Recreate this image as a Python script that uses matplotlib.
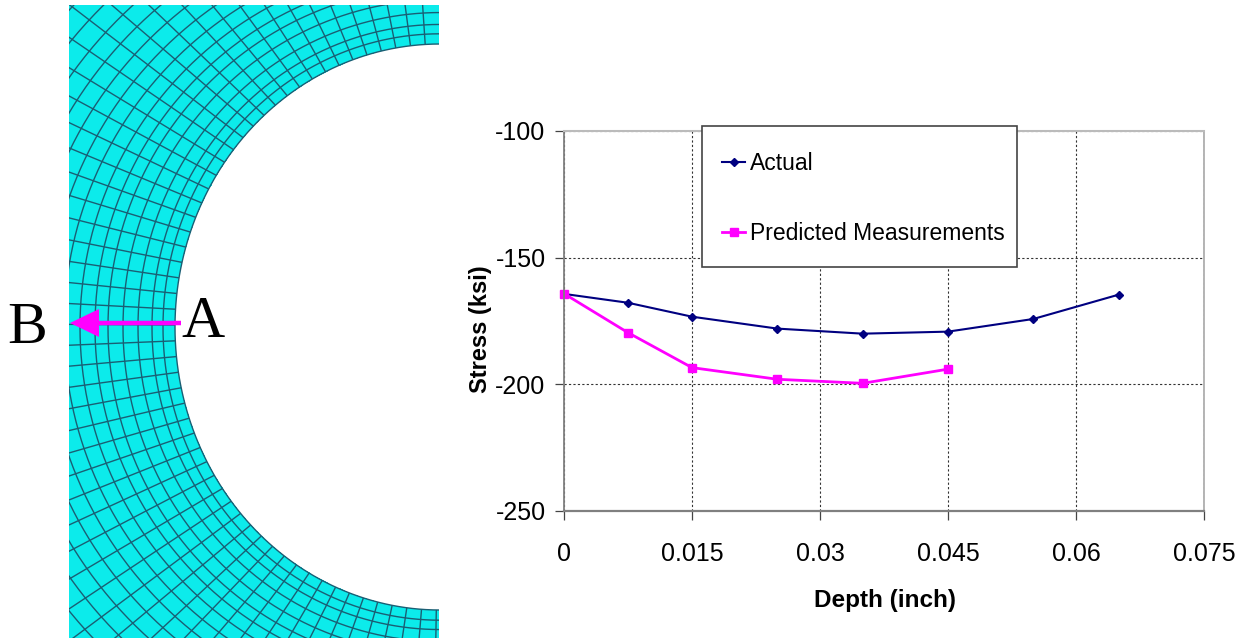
import numpy as np
import matplotlib
matplotlib.use("Agg")
import matplotlib.pyplot as plt
from matplotlib.colors import ListedColormap
from matplotlib.patches import FancyArrow, Rectangle

plt.rcParams["axes.unicode_minus"] = False
W, H = 1247, 641

depth_actual = [0, 0.0075, 0.015, 0.025, 0.035, 0.045, 0.055, 0.065]
stress_actual = [-164.3, -167.8, -173.3, -178.0, -180.0, -179.2, -174.2, -164.6]
depth_pred = [0, 0.0075, 0.015, 0.025, 0.035, 0.045]
stress_pred = [-164.2, -179.6, -193.4, -198.0, -199.6, -194.0]
x_ticks = [0, 0.015, 0.03, 0.045, 0.06, 0.075]
x_labels = ["0", "0.015", "0.03", "0.045", "0.06", "0.075"]
y_ticks = [-100, -150, -200, -250]
mesh_offsets = [0, 12, 23, 37, 52, 67, 80, 95, 111, 128, 146, 165, 185, 207, 230, 255, 282, 311, 342]
mesh_angles = np.arange(-90, 90.01, 3.2)

def axes_px(x0, y0, x1, y1):
    return [x0 / W, 1 - y1 / H, (x1 - x0) / W, (y1 - y0) / H]

def ring(theta, offset):
    return 440 - (265 + offset) * np.cos(theta), 327 + (283 + offset * 0.85) * np.sin(theta)

fig = plt.figure(figsize=(W / 100, H / 100), dpi=100, facecolor="white")

# FEA mesh panel
am = fig.add_axes(axes_px(69, 5, 439, 638))
fine = np.radians(np.linspace(-90, 90, 361))
off = np.array(mesh_offsets, float)
T, O = np.meshgrid(fine, [off[0], off[-1]])
X, Y = ring(T, O)
am.pcolormesh(X, Y, np.zeros((1, fine.size - 1)), cmap=ListedColormap(["#0CEBEB"]),
              shading="flat", antialiased=False)
line_kw = dict(color="#1A5F74", lw=1.0, solid_capstyle="butt")
for o in mesh_offsets:
    am.plot(*ring(fine, o), **line_kw)
for a in np.radians(mesh_angles):
    am.plot(*ring(np.full(off.size, a), off), **line_kw)
am.set_xlim(69, 439)
am.set_ylim(638, 5)
am.axis("off")

# Overlay for labels and arrow, in pixel coordinates
ao = fig.add_axes([0, 0, 1, 1], facecolor="none")
ao.set_xlim(0, W)
ao.set_ylim(H, 0)
ao.axis("off")
ao.add_patch(FancyArrow(181, 323, -111, 0, width=4.5, head_width=28, head_length=29,
                        length_includes_head=True, color="#FF00FF", lw=0))
ao.text(203, 337, "A", family="Liberation Serif", fontsize=43, ha="center", va="baseline", color="black")
ao.text(27, 343, "B", family="Liberation Serif", fontsize=43, ha="center", va="baseline", color="black")

# Chart
ax = fig.add_axes(axes_px(564, 131, 1204, 511), facecolor="none")
ax.set_xlim(0, 0.075)
ax.set_ylim(-250, -100)
ax.set_xticks(x_ticks)
ax.set_xticklabels(x_labels)
ax.set_yticks(y_ticks)
ax.grid(True, color="#333333", linestyle=(0, (2, 2)), linewidth=0.8)
ax.set_axisbelow(True)
ax.spines["left"].set(color="#808080", linewidth=1.3)
ax.spines["bottom"].set(color="#808080", linewidth=1.6)
ax.spines["top"].set(color="#BBBBBB", linewidth=1.5)
ax.spines["right"].set(color="#A0A0A0", linewidth=1.1)
ax.tick_params(axis="both", length=6.3, width=0.9, color="#444444", labelsize=18,
               labelfontfamily="Liberation Sans")
ax.tick_params(axis="x", pad=16)
ax.tick_params(axis="y", pad=7)
ax.plot(depth_actual, stress_actual, color="#000080", lw=1.5, marker="D", ms=4.5,
        label="Actual", clip_on=False)
ax.plot(depth_pred, stress_pred, color="#FF00FF", lw=2.0, marker="s", ms=6,
        label="Predicted Measurements", clip_on=False)
ax.set_xlabel("Depth (inch)", family="Liberation Sans", fontweight="bold", fontsize=17.5)
ax.set_ylabel("Stress (ksi)", family="Liberation Sans", fontweight="bold", fontsize=17)
ax.xaxis.label.set_verticalalignment("center")
ax.yaxis.label.set_verticalalignment("center")
ax.xaxis.set_label_coords((885 - 564) / 640, -(600 - 511) / 380)
ax.yaxis.set_label_coords((480 - 564) / 640, (511 - 329) / 380)

# Legend box: frame drawn separately so its padding can differ by direction
ax.add_patch(Rectangle((702, 126), 315, 141, transform=ao.transData, facecolor="white",
                       edgecolor="#444444", linewidth=1.2, zorder=4.5, clip_on=False))
leg = ax.legend(loc="upper left",
                bbox_to_anchor=((698 - 564) / 640, (511 - 128) / 380),
                prop={"family": "Liberation Sans", "size": 16.5},
                frameon=False, borderaxespad=0, labelspacing=2.04,
                handlelength=1.0, handletextpad=0.22, borderpad=1.05)
leg.set_zorder(5)

fig.savefig("out.png", dpi=100)
